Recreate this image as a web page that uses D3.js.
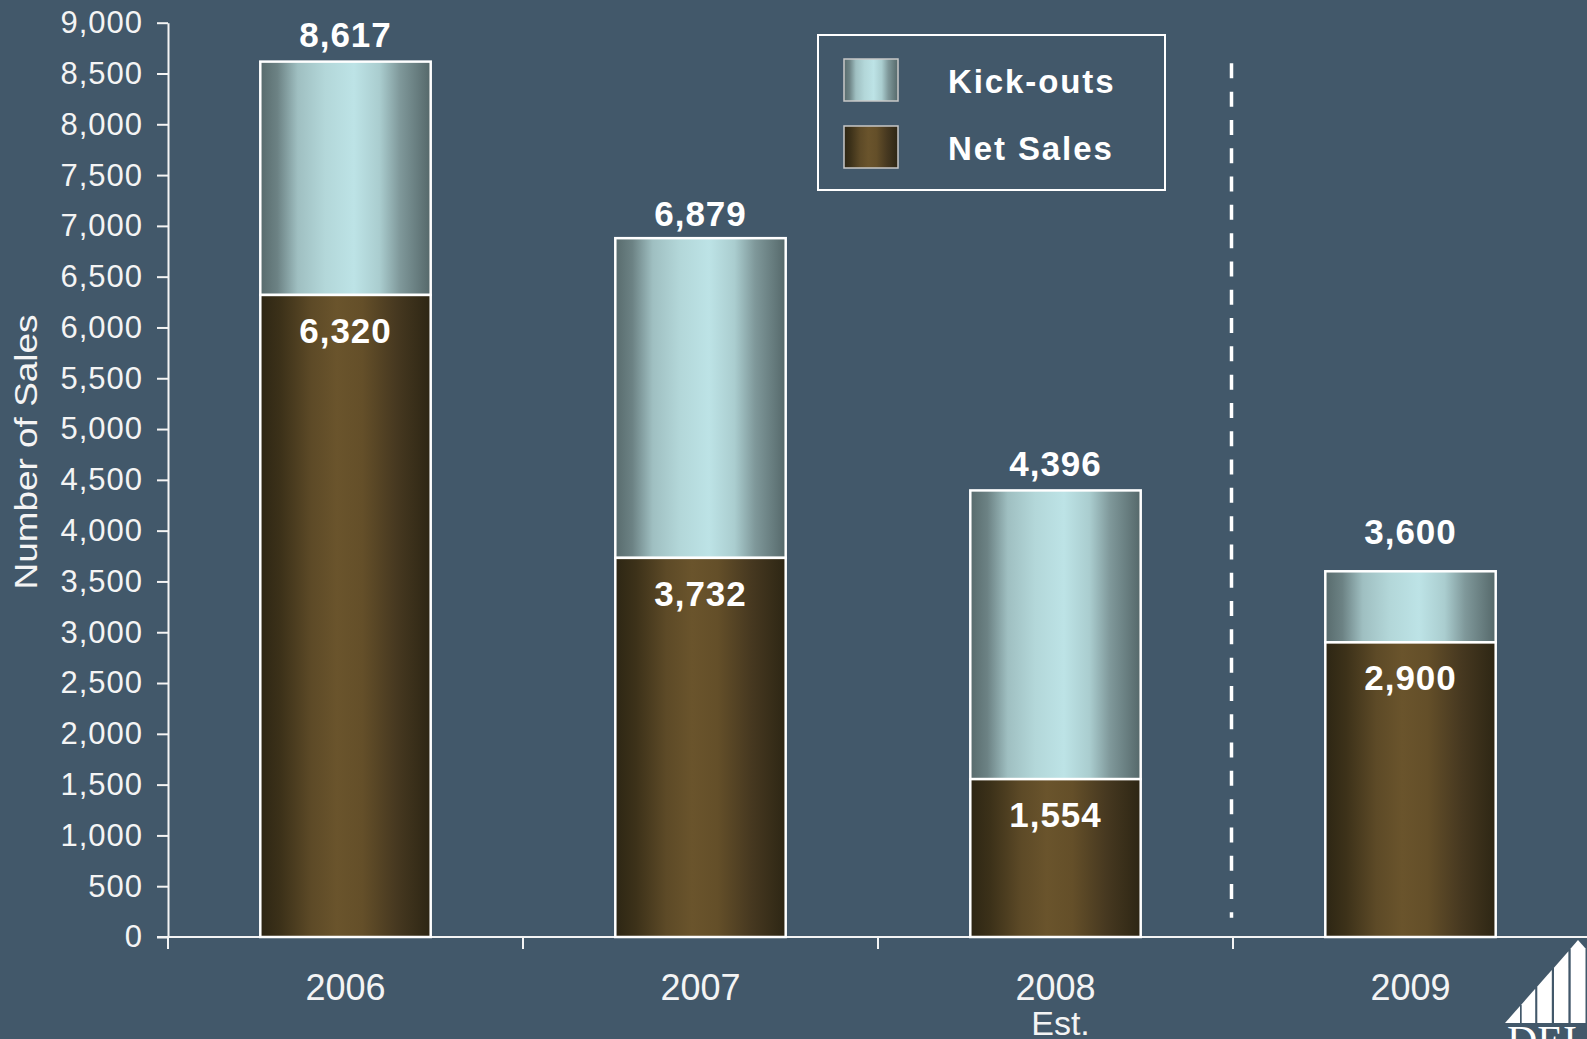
<!DOCTYPE html>
<html>
<head>
<meta charset="utf-8">
<script src="https://cdn.jsdelivr.net/npm/d3@7"></script>
<style>
  html, body { margin: 0; padding: 0; background: #42586a; overflow: hidden; }
  svg { display: block; font-family: "Liberation Sans", Arial, Helvetica, sans-serif; }
</style>
</head>
<body>
<svg id="chart" width="1587" height="1039"></svg>
<script>
// Sales by year, split into net sales and kick-outs
const years = ["2006", "2007", "2008", "2009"];
const yearNotes = ["", "", "Est.", ""];
const netSales = [6320, 3732, 1554, 2900];
const totalSales = [8617, 6879, 4396, 3600];
const kickOuts = totalSales.map((t, i) => t - netSales[i]);
const yTicks = [0, 500, 1000, 1500, 2000, 2500, 3000, 3500, 4000, 4500, 5000, 5500, 6000, 6500, 7000, 7500, 8000, 8500, 9000];
const seriesNames = ["Kick-outs", "Net Sales"];
const forecastYear = "2009";

const W = 1587, H = 1039;
const bg = "#42586a";
const ink = "#f4f4f4";
const fmt = d3.format(",");

// Distance of each total label above its bar (the forecast bar's sits higher)
const totalLabelGap = { "2007": 12, "2009": 27 };
const defaultGap = 14.5;

const svg = d3.select("#chart");
svg.append("rect").attr("width", W).attr("height", H).attr("fill", bg);

// Scales
const x = d3.scaleBand().domain(years).range([168, 1588]).paddingInner(0.52).paddingOuter(0.26);
const y = d3.scaleLinear().domain([0, 9000]).range([937, 22.7]);
const gap = x.step() - x.bandwidth();

// Cylinder-like horizontal gradients
const defs = svg.append("defs");
function grad(id, stops) {
  const g = defs.append("linearGradient").attr("id", id)
    .attr("x1", 0).attr("x2", 1).attr("y1", 0).attr("y2", 0);
  stops.forEach(([o, c]) => g.append("stop").attr("offset", o).attr("stop-color", c));
}
grad("kickGrad", [
  [0, "#586b6d"], [0.1, "#6c8284"], [0.22, "#9fbfc1"], [0.38, "#b3d7d9"],
  [0.55, "#bde3e6"], [0.7, "#aacdcf"], [0.82, "#7f989a"], [1, "#55686a"]
]);
grad("netGrad", [
  [0, "#2d2614"], [0.12, "#3c3119"], [0.3, "#5d4a27"], [0.45, "#6a542c"],
  [0.6, "#644f29"], [0.8, "#463820"], [1, "#2d2614"]
]);

// Y axis
const yAxis = svg.append("g")
  .attr("transform", `translate(${x.range()[0]},0)`)
  .call(d3.axisLeft(y).tickValues(yTicks).tickFormat(fmt).tickSize(11).tickSizeOuter(0).tickPadding(14));
yAxis.select(".domain").attr("stroke", ink).attr("stroke-width", 2);
yAxis.selectAll(".tick line").attr("stroke", ink).attr("stroke-width", 2);
yAxis.selectAll(".tick text").attr("fill", ink).attr("font-size", 31)
  .attr("letter-spacing", 1)
  .attr("font-family", "'Liberation Sans', Arial, sans-serif");

// Axis title
svg.append("text")
  .attr("transform", `translate(37,452) rotate(-90)`)
  .attr("text-anchor", "middle")
  .attr("fill", ink)
  .attr("font-size", 31)
  .attr("textLength", 275)
  .attr("lengthAdjust", "spacingAndGlyphs")
  .text("Number of Sales");

// X axis: baseline plus category boundary ticks
svg.append("line")
  .attr("x1", x.range()[0] - 11).attr("x2", W)
  .attr("y1", y(0)).attr("y2", y(0))
  .attr("stroke", ink).attr("stroke-width", 2);
svg.selectAll(".xtick").data(years).enter().append("line")
  .attr("class", "xtick")
  .attr("x1", d => x(d) - gap / 2).attr("x2", d => x(d) - gap / 2)
  .attr("y1", y(0)).attr("y2", y(0) + 12)
  .attr("stroke", ink).attr("stroke-width", 2);

// Category labels
svg.selectAll(".xlab").data(years).enter().append("text")
  .attr("class", "xlab")
  .attr("x", d => x(d) + x.bandwidth() / 2)
  .attr("y", 1000)
  .attr("text-anchor", "middle")
  .attr("fill", ink)
  .attr("font-size", 36)
  .text(d => d);
svg.selectAll(".xnote").data(years.map((d, i) => ({ d, note: yearNotes[i] })).filter(o => o.note))
  .enter().append("text")
  .attr("class", "xnote")
  .attr("x", o => x(o.d) + x.bandwidth() / 2 + 5)
  .attr("y", 1035)
  .attr("text-anchor", "middle")
  .attr("fill", ink)
  .attr("font-size", 34)
  .text(o => o.note);

// Bars
const rows = years.map((d, i) => ({ year: d, net: netSales[i], kick: kickOuts[i], total: totalSales[i] }));
const bars = svg.selectAll(".bar").data(rows).enter().append("g").attr("class", "bar");
bars.append("rect")
  .attr("x", d => x(d.year)).attr("width", x.bandwidth())
  .attr("y", d => y(d.net + d.kick)).attr("height", d => y(d.net) - y(d.net + d.kick))
  .attr("fill", "url(#kickGrad)")
  .attr("stroke", "#ffffff").attr("stroke-width", 2.5);
bars.append("rect")
  .attr("x", d => x(d.year)).attr("width", x.bandwidth())
  .attr("y", d => y(d.net)).attr("height", d => y(0) - y(d.net))
  .attr("fill", "url(#netGrad)")
  .attr("stroke", "#ffffff").attr("stroke-width", 2.5);

// Value labels
bars.append("text")
  .attr("x", d => x(d.year) + x.bandwidth() / 2)
  .attr("y", d => y(d.total) - (totalLabelGap[d.year] ?? defaultGap))
  .attr("text-anchor", "middle")
  .attr("fill", "#ffffff").attr("font-weight", "bold").attr("font-size", 35)
  .attr("letter-spacing", 1)
  .text(d => fmt(d.total));
bars.append("text")
  .attr("x", d => x(d.year) + x.bandwidth() / 2)
  .attr("y", d => y(d.net) + 48)
  .attr("text-anchor", "middle")
  .attr("fill", "#ffffff").attr("font-weight", "bold").attr("font-size", 35)
  .attr("letter-spacing", 1)
  .text(d => fmt(d.net));

// Divider between actuals and forecast
const divX = x(forecastYear) - gap / 2 - 1.5;
svg.append("line")
  .attr("x1", divX).attr("x2", divX)
  .attr("y1", y(8600)).attr("y2", y(190))
  .attr("stroke", "#ffffff").attr("stroke-width", 3.5)
  .attr("stroke-dasharray", "15,13.3");

// Legend
const lg = svg.append("g").attr("transform", "translate(818,35)");
lg.append("rect").attr("width", 347).attr("height", 155)
  .attr("fill", "none").attr("stroke", "#ffffff").attr("stroke-width", 2);
const items = [
  { name: seriesNames[0], fill: "url(#kickGrad)" },
  { name: seriesNames[1], fill: "url(#netGrad)" }
];
const li = lg.selectAll(".li").data(items).enter().append("g")
  .attr("class", "li")
  .attr("transform", (d, i) => `translate(0,${24 + i * 67})`);
li.append("rect").attr("x", 26).attr("width", 54).attr("height", 42)
  .attr("fill", d => d.fill).attr("stroke", "#c8c8c8").attr("stroke-width", 1.5);
li.append("text").attr("x", 130).attr("y", 34)
  .attr("fill", "#ffffff").attr("font-weight", "bold").attr("font-size", 33)
  .attr("letter-spacing", 1.9)
  .text(d => d.name);

// Corner logo: stepped sail bars and wordmark
const logo = svg.append("g").attr("fill", "#ffffff");
const base = 1023, slope = 1.13, x0 = 1505;
const hyp = v => base - slope * (v - x0);
const segs = [[1505, 1520], [1521.7, 1535.2], [1537.3, 1551.8], [1554, 1568.4]];
segs.forEach(([a, b]) => {
  logo.append("polygon")
    .attr("points", [[a, base], [a, hyp(a)], [b, hyp(b)], [b, base]].map(p => p.join(",")).join(" "));
});
logo.append("polygon")
  .attr("points", [[1570.7, base], [1570.7, 948.5], [1578, 940], [1585.5, 948.5], [1585.5, base]].map(p => p.join(",")).join(" "));
svg.append("text")
  .attr("x", 1507).attr("y", 1055)
  .attr("fill", "#ffffff")
  .attr("font-family", "'Liberation Serif', 'Times New Roman', serif")
  .attr("font-size", 42)
  .text("DEI");
</script>
</body>
</html>
